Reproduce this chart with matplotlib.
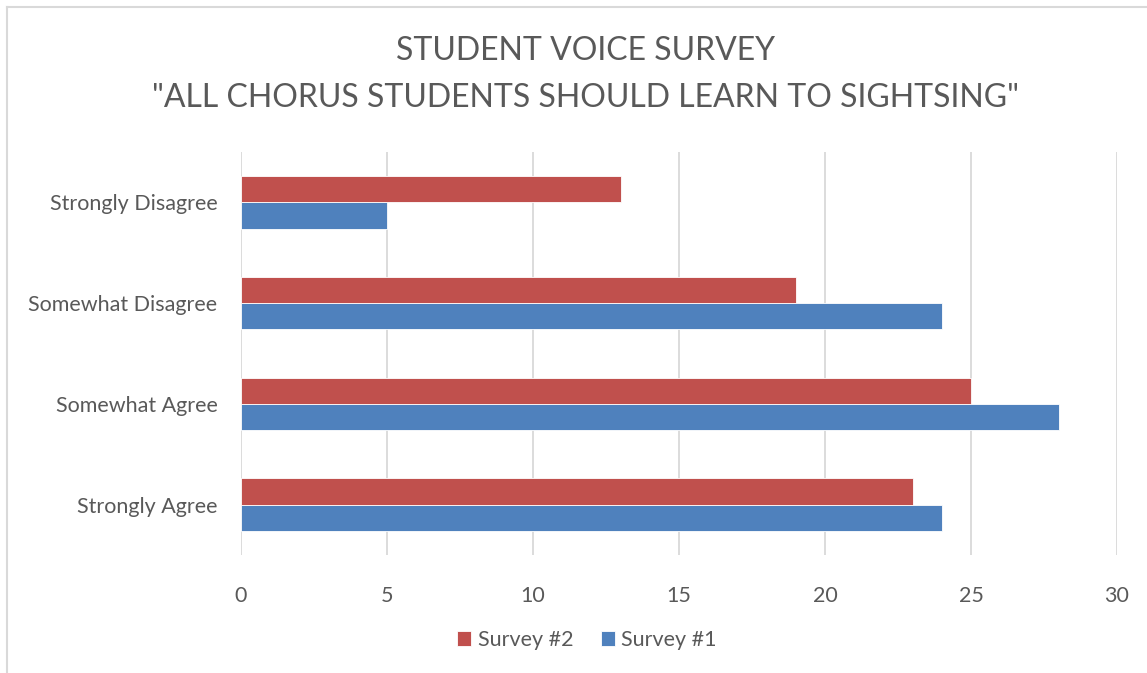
import matplotlib
matplotlib.use("Agg")
import matplotlib.pyplot as plt
from matplotlib.lines import Line2D
import numpy as np

plt.rcParams['font.family'] = ['Lato', 'DejaVu Sans']

categories = ["Strongly Agree", "Somewhat Agree", "Somewhat Disagree", "Strongly Disagree"]
survey1 = [24, 28, 24, 5]
survey2 = [23, 25, 19, 13]
xticks = [0, 5, 10, 15, 20, 25, 30]

title_lines = ["STUDENT VOICE SURVEY", "\"ALL CHORUS STUDENTS SHOULD LEARN TO SIGHTSING\""]

RED = "#C0504D"
BLUE = "#4F81BD"
TEXT = "#595959"
GRID = "#D9D9D9"

fig = plt.figure(figsize=(11.47, 6.73), dpi=100)
ax = fig.add_axes([241 / 1147, 1 - 555 / 673, (1117 - 241) / 1147, (555 - 152) / 673])

y = np.arange(len(categories))
h = 0.26
ax.barh(y - h / 2, survey1, height=h, color=BLUE, edgecolor="white", linewidth=0.6, label="Survey #1", zorder=3)
ax.barh(y + h / 2, survey2, height=h, color=RED, edgecolor="white", linewidth=0.6, label="Survey #2", zorder=3)

ax.set_xlim(0, 30)
ax.set_ylim(-0.5, len(categories) - 0.5)
ax.set_xticks(xticks)
ax.set_yticks(y)
ax.set_yticklabels(categories)
ax.grid(axis="x", color=GRID, linewidth=1.3, zorder=0)
for s in ax.spines.values():
    s.set_visible(False)
ax.tick_params(axis="both", length=0, colors=TEXT, labelsize=15.5)
ax.tick_params(axis="x", pad=22)
ax.tick_params(axis="y", pad=17)

title_x = 585 / 1147
fig.text(title_x, 1 - 51 / 673, title_lines[0], ha="center", va="center", fontsize=23, color=TEXT)
fig.text(title_x, 1 - 98 / 673, title_lines[1], ha="center", va="center", fontsize=23, color=TEXT)

handles, labels = ax.get_legend_handles_labels()
leg = fig.legend(handles[::-1], labels[::-1], loc="center", bbox_to_anchor=(587 / 1147, 1 - 640 / 673),
                 ncol=2, frameon=False, fontsize=15.5, handlelength=0.65, handleheight=0.65,
                 handletextpad=0.3, columnspacing=1.3)
for t in leg.get_texts():
    t.set_color(TEXT)

# chart-area frame (top and left edges)
fig.add_artist(Line2D([7 / 1147, 7 / 1147], [0, 1 - 7 / 673], transform=fig.transFigure, color=GRID, linewidth=1.5))
fig.add_artist(Line2D([7 / 1147, 1], [1 - 7 / 673, 1 - 7 / 673], transform=fig.transFigure, color=GRID, linewidth=1.5))

fig.savefig("out.png", dpi=100, facecolor="white")
